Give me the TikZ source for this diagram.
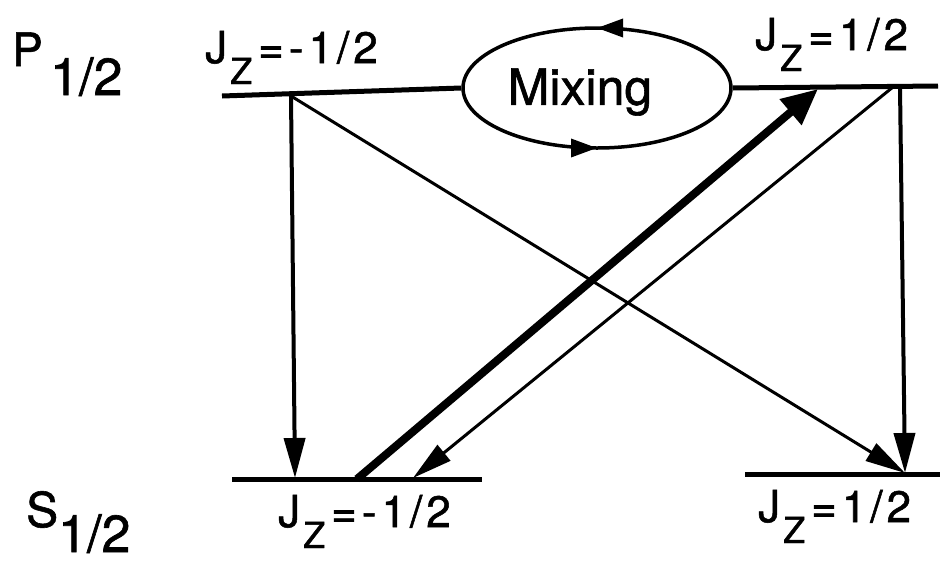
\documentclass[tikz,border=0pt]{standalone}
\usepackage{fontspec}
\setmainfont{TeX Gyre Heros}[FakeBold=1.2]
\usetikzlibrary{arrows.meta, shapes.geometric, decorations.markings}

\tikzset{
  level/.style={line width=5pt},
  trans/.style={line width=4pt, -{Triangle[length=40pt, width=21pt]}},
  weak trans/.style={line width=3pt, -{Triangle[length=40pt, width=20pt]}},
  pump/.style={line width=8pt, -{Triangle[length=36pt, width=32pt]}},
  mixing/.style={draw, ellipse, line width=3.5pt, inner sep=0pt,
    minimum width=268pt, minimum height=120pt,
    postaction={decorate, decoration={markings,
      mark=at position 0.25 with {\arrow{Triangle[length=26pt, width=18pt]}},
      mark=at position 0.75 with {\arrow{Triangle[length=26pt, width=18pt]}}}}},
  jzlabel/.style={anchor=base west, inner sep=0pt, font=\fontsize{44}{44}\selectfont},
  termlabel/.style={anchor=base west, inner sep=0pt},
}
% J_Z with a spaced-out value
\newcommand{\jzval}[1]{J\kern3pt\raisebox{-21pt}{\fontsize{36}{36}\selectfont Z}\kern6pt=\kern5pt#1}

\begin{document}
\begin{tikzpicture}[x=1pt, y=-1pt]
  \useasboundingbox (0,0) rectangle (940,563);

  % term labels
  \node[termlabel, font=\fontsize{46}{46}\selectfont] (pterm) at (12,66) {P};
  \node[termlabel, font=\fontsize{52}{52}\selectfont] (ptermsub) at (50,95) {1/2};
  \node[termlabel, font=\fontsize{48}{48}\selectfont] (sterm) at (26,527) {S};
  \node[termlabel, font=\fontsize{52}{52}\selectfont] (stermsub) at (58,552) {1/2};

  % P levels with the mixing loop
  \node[mixing] (mix) at (597,88) {};
  \node[font=\fontsize{50}{50}\selectfont] (mixtext) at (580,92) {Mixing};
  \coordinate (pml) at (222,96);
  \coordinate (ppr) at (938,86);
  \draw[level] (pml) -- (mix.west);
  \draw[level] (mix.east) -- (ppr);

  % S levels
  \coordinate (sml) at (232,479);
  \coordinate (smr) at (482,479);
  \coordinate (spl) at (745,474);
  \coordinate (spr) at (940,474);
  \draw[level] (sml) -- (smr);
  \draw[level] (spl) -- (spr);

  % level labels
  \node[jzlabel] (pmlbl) at (205,63) {\jzval{-\kern5pt1\kern4pt/\kern4pt2}};
  \node[jzlabel] (pplbl) at (755,50) {\jzval{1\kern4pt/\kern4pt2}};
  \node[jzlabel] (smlbl) at (278,527) {\jzval{-\kern5pt1\kern4pt/\kern4pt2}};
  \node[jzlabel] (splbl) at (758,522) {\jzval{1\kern4pt/\kern4pt2}};

  % transition ends
  \coordinate (pmA) at (291,96);
  \coordinate (ppA) at (900,87);
  \coordinate (ppB) at (893,87);
  \coordinate (ppC) at (818,89);
  \coordinate (smA) at (295,478);
  \coordinate (smB) at (357,479);
  \coordinate (smC) at (413,478);
  \coordinate (spA) at (905,473);

  % transitions
  \draw[trans] (pmA) -- (smA);
  \draw[trans] (ppA) -- (spA);
  \draw[weak trans] (pmA) -- (spA);
  \draw[weak trans] (ppB) -- (smC);
  \draw[pump] (smB) -- (ppC);
\end{tikzpicture}
\end{document}
